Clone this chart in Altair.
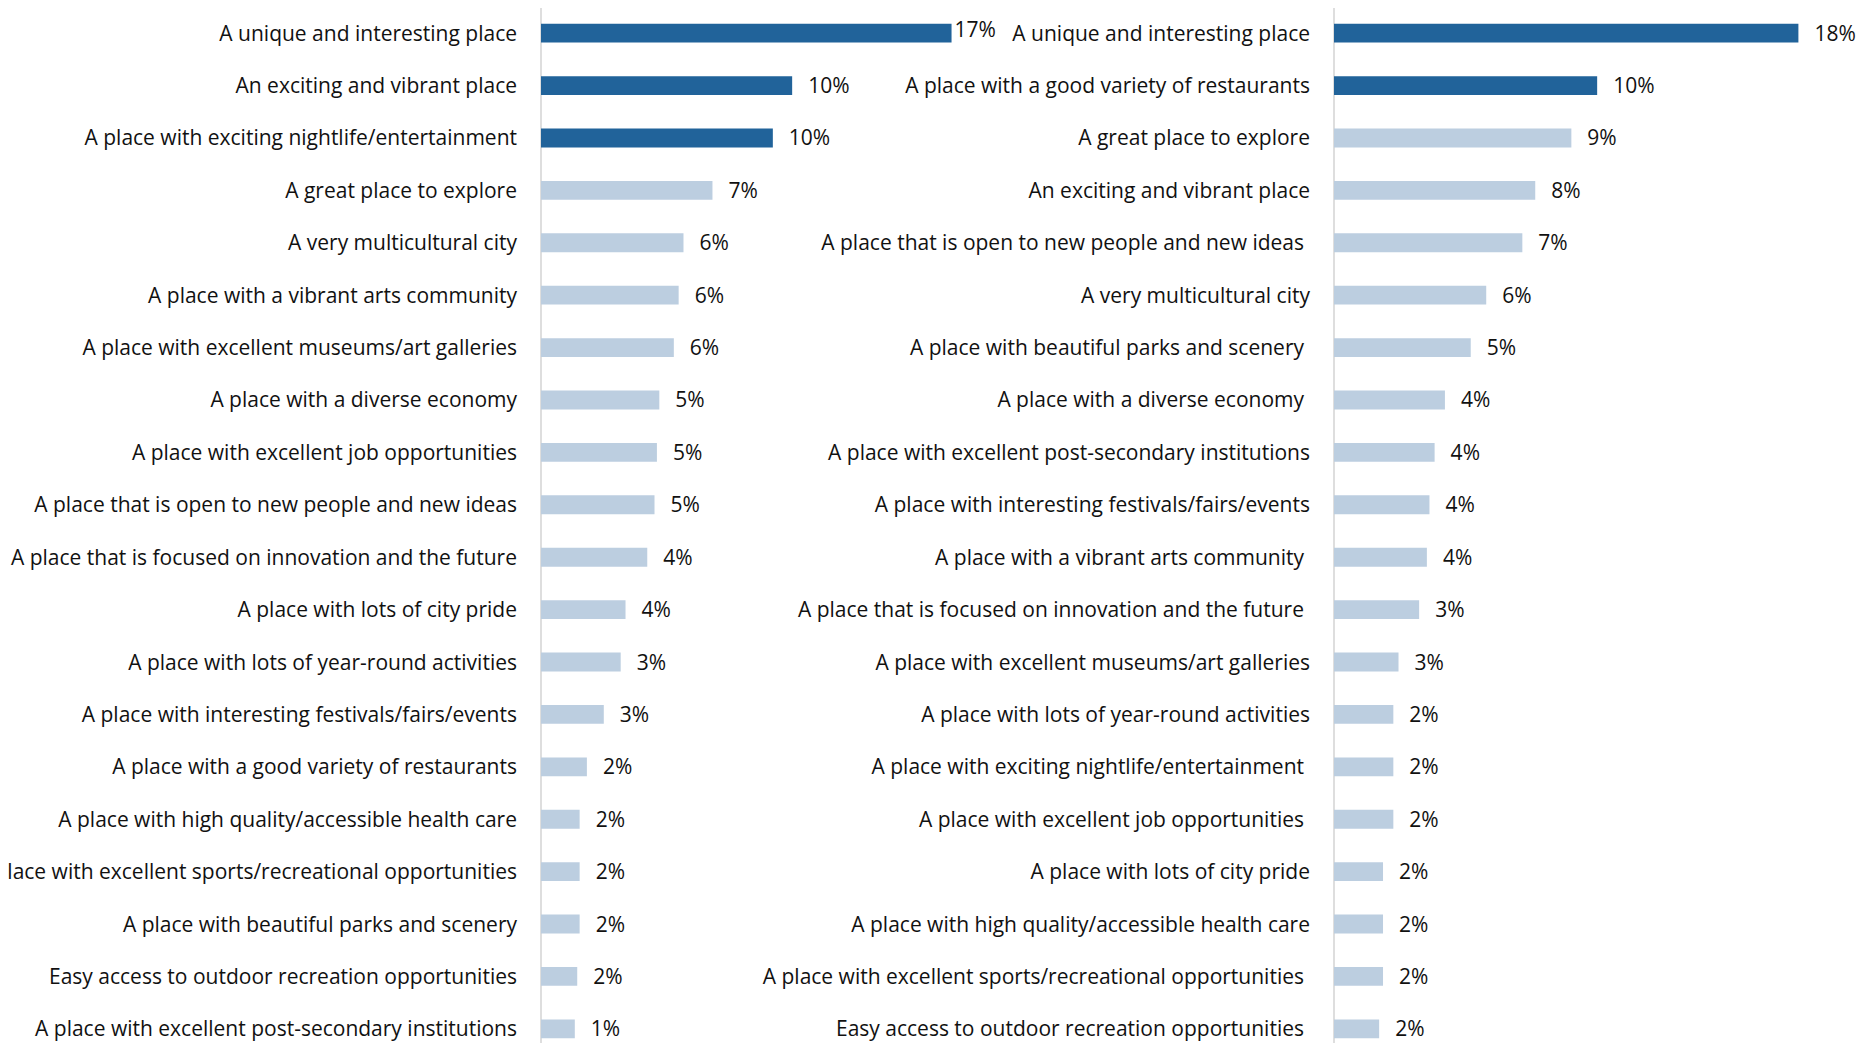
import altair as alt
import pandas as pd

left_labels = [
    "A unique and interesting place",
    "An exciting and vibrant place",
    "A place with exciting nightlife/entertainment",
    "A great place to explore",
    "A very multicultural city",
    "A place with a vibrant arts community",
    "A place with excellent museums/art galleries",
    "A place with a diverse economy",
    "A place with excellent job opportunities",
    "A place that is open to new people and new ideas",
    "A place that is focused on innovation and the future",
    "A place with lots of city pride",
    "A place with lots of year-round activities",
    "A place with interesting festivals/fairs/events",
    "A place with a good variety of restaurants",
    "A place with high quality/accessible health care",
    "A place with excellent sports/recreational opportunities",
    "A place with beautiful parks and scenery",
    "Easy access to outdoor recreation opportunities",
    "A place with excellent post-secondary institutions",
]
left_values = [17.0, 10.4, 9.6, 7.1, 5.9, 5.7, 5.5, 4.9, 4.8, 4.7, 4.4, 3.5, 3.3, 2.6, 1.9, 1.6, 1.6, 1.6, 1.5, 1.4]
left_pct = [17, 10, 10, 7, 6, 6, 6, 5, 5, 5, 4, 4, 3, 3, 2, 2, 2, 2, 2, 1]

# some labels in the source carry a trailing space
right_labels = [
    "A unique and interesting place",
    "A place with a good variety of restaurants",
    "A great place to explore",
    "An exciting and vibrant place",
    "A place that is open to new people and new ideas ",
    "A very multicultural city",
    "A place with beautiful parks and scenery ",
    "A place with a diverse economy ",
    "A place with excellent post-secondary institutions",
    "A place with interesting festivals/fairs/events",
    "A place with a vibrant arts community ",
    "A place that is focused on innovation and the future ",
    "A place with excellent museums/art galleries",
    "A place with lots of year-round activities",
    "A place with exciting nightlife/entertainment ",
    "A place with excellent job opportunities ",
    "A place with lots of city pride",
    "A place with high quality/accessible health care",
    "A place with excellent sports/recreational opportunities ",
    "Easy access to outdoor recreation opportunities ",
]
right_values = [18.0, 10.2, 9.2, 7.8, 7.3, 5.9, 5.3, 4.3, 3.9, 3.7, 3.6, 3.3, 2.5, 2.3, 2.3, 2.3, 1.9, 1.9, 1.9, 1.75]
right_pct = [18, 10, 9, 8, 7, 6, 5, 4, 4, 4, 4, 3, 3, 2, 2, 2, 2, 2, 2, 2]

# number of highlighted (dark) rows in each panel
left_top = 3
right_top = 2

DARK = "#21639a"
LIGHT = "#bccee0"
AXIS = "#d9d9d9"
TXT = "#111111"
FONT = "Open Sans"
FS = 21
DY = 1.5

W = 1315
H = 1046

left = pd.DataFrame({"idx": list(range(20)), "label": left_labels, "value": left_values,
                     "pct": [f"{p}%" for p in left_pct]})
right = pd.DataFrame({"idx": list(range(20)), "label": right_labels, "value": right_values,
                      "pct": [f"{p}%" for p in right_pct]})
zero = pd.DataFrame({"v": [0]})

ysc = alt.Scale(domain=list(range(20)), paddingInner=0.64, paddingOuter=0.30)
Y = alt.Y("idx:O", scale=ysc, axis=None)

lsc = alt.Scale(domain=[0, W / 24.15], nice=False, zero=False)
rsc = alt.Scale(domain=[-793 / 25.8, (W - 793) / 25.8], nice=False, zero=False)

TRAIL = "slice(datum.label, -1) == ' '"


def panel(df, sc, ntop, near_first):
    col = alt.condition(f"datum.idx < {ntop}", alt.value(DARK), alt.value(LIGHT))
    rule = alt.Chart(zero).mark_rule(color=AXIS, strokeWidth=1.7).encode(
        x=alt.X("v:Q", scale=sc, axis=None), y=alt.value(0), y2=alt.value(H))
    bars = alt.Chart(df).mark_bar().encode(
        x=alt.X("value:Q", scale=sc, axis=None), y=Y, color=col)
    vals_main = alt.Chart(df).transform_filter(
        "datum.idx > 0" if near_first else "true").mark_text(
        align="left", baseline="middle", dx=16, dy=DY, font=FONT, fontSize=FS, color=TXT).encode(
        x=alt.X("value:Q", scale=sc, axis=None), y=Y, text="pct:N")
    layers = [rule, bars, vals_main]
    if near_first:
        layers.append(alt.Chart(df).transform_filter("datum.idx == 0").mark_text(
            align="left", baseline="middle", dx=3, dy=-2, font=FONT, fontSize=FS, color=TXT).encode(
            x=alt.X("value:Q", scale=sc, axis=None), y=Y, text="pct:N"))
    for flt, dx in ((f"!({TRAIL})", -24), (TRAIL, -30)):
        layers.append(alt.Chart(df).transform_filter(flt).transform_calculate(z="0").mark_text(
            align="right", baseline="middle", dx=dx, dy=DY, font=FONT, fontSize=FS, color=TXT).encode(
            x=alt.X("z:Q", scale=sc, axis=None), y=Y, text="label:N"))
    return layers


chart = alt.layer(*panel(left, lsc, left_top, True), *panel(right, rsc, right_top, False)).resolve_scale(
    x="independent").properties(
    width=W, height=H,
    autosize=alt.AutoSizeParams(type="none"),
    padding={"left": 533, "top": 0, "right": 0, "bottom": 0},
).configure_view(stroke=None)

chart.save("out.html", embed_options={"renderer": "svg", "actions": False})
